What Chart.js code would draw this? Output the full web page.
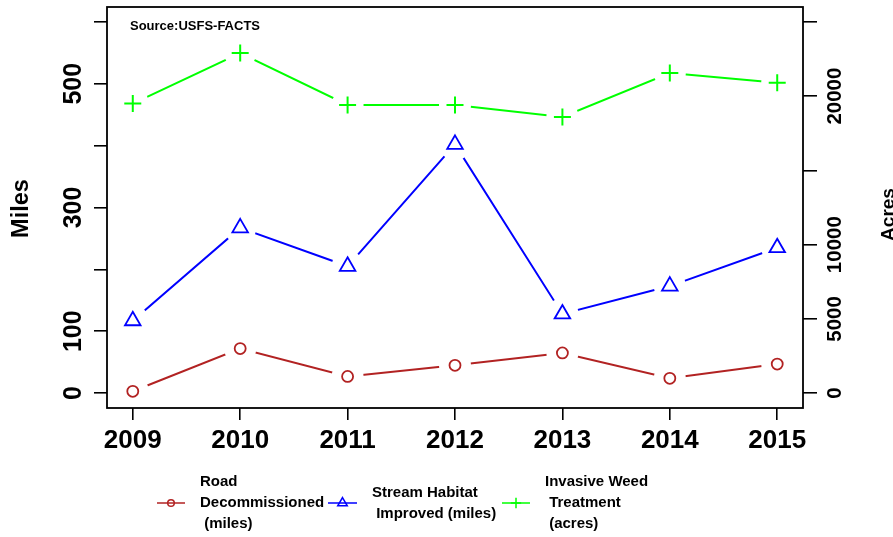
<!DOCTYPE html>
<html>
<head>
<meta charset="utf-8">
<script src="https://cdn.jsdelivr.net/npm/chart.js@4/dist/chart.umd.min.js"></script>
<style>
  html, body { margin: 0; padding: 0; background: #ffffff; }
  #wrap { width: 893px; height: 537px; }
</style>
</head>
<body>
<div id="wrap"><canvas id="c" width="893" height="537"></canvas></div>
<script>
// ---- data ----
const years = [2009, 2010, 2011, 2012, 2013, 2014, 2015];
const roadMiles = [3, 72, 27, 45, 65, 24, 47];
const streamMiles = [117, 267, 205, 402, 128, 173, 235];
const weedAcres = [19500, 22900, 19400, 19400, 18600, 21550, 20900];

const xTickLabels = ['2009', '2010', '2011', '2012', '2013', '2014', '2015'];
const leftTicks = [0, 100, 200, 300, 400, 500, 600];
const leftTickLabels = ['0', '100', '', '300', '', '500', ''];
const rightTicks = [0, 5000, 10000, 15000, 20000, 25000];
const rightTickLabels = ['0', '5000', '10000', '', '20000', ''];

const seriesNames = ['Road Decommissioned (miles)', 'Stream Habitat Improved (miles)', 'Invasive Weed Treatment (acres)'];
const legendLines = [['Road', 'Decommissioned', ' (miles)'], ['Stream Habitat', ' Improved (miles)'], ['Invasive Weed', ' Treatment', ' (acres)']];
const leftTitle = 'Miles';
const rightTitle = 'Acres';
const sourceNote = 'Source:USFS-FACTS';

// ---- styling ----
const FONT = "'Liberation Sans', Arial, Helvetica, sans-serif";
Chart.defaults.font.family = FONT;
Chart.defaults.color = '#000000';
const RED = '#B22222', BLUE = '#0000FF', GREEN = '#00FF00';

const rDecor = {
  id: 'rDecor',
  afterDatasetDraw(chart, args) {
    const ctx = chart.ctx, area = chart.chartArea;
    const meta = args.meta;
    ctx.save();
    ctx.beginPath();
    ctx.rect(area.left, area.top, area.right - area.left, area.bottom - area.top);
    ctx.clip();
    ctx.fillStyle = '#ffffff';
    meta.data.forEach(el => {
      ctx.beginPath();
      ctx.arc(el.x, el.y, 16, 0, Math.PI * 2);
      ctx.fill();
    });
    meta.data.forEach(el => el.draw(ctx, area));
    ctx.restore();
  },
  afterDraw(chart) {
    const ctx = chart.ctx, a = chart.chartArea;
    ctx.save();
    // box
    ctx.strokeStyle = '#000';
    ctx.lineWidth = 1.8;
    ctx.strokeRect(a.left, a.top, a.right - a.left, a.bottom - a.top);
    // source
    ctx.fillStyle = '#000';
    ctx.font = 'bold 13px ' + FONT;
    ctx.textAlign = 'left';
    ctx.textBaseline = 'alphabetic';
    ctx.fillText(sourceNote, a.left + 23, a.top + 23);
    // axis titles (rotated, reading bottom to top)
    const midY = (a.top + a.bottom) / 2;
    ctx.save();
    ctx.translate(28, midY + 1);
    ctx.rotate(-Math.PI / 2);
    ctx.font = 'bold 23.5px ' + FONT;
    ctx.textAlign = 'center';
    ctx.fillText(leftTitle, 0, 0);
    ctx.restore();
    ctx.save();
    ctx.translate(894, midY + 7);
    ctx.rotate(-Math.PI / 2);
    ctx.font = 'bold 19px ' + FONT;
    ctx.textAlign = 'center';
    ctx.fillText(rightTitle, 0, 0);
    ctx.restore();
    // legend
    const legY = 503;
    const items = [
      {x1: 157, x2: 185, tx: 200},
      {x1: 328, x2: 357, tx: 372},
      {x1: 502, x2: 530, tx: 545}
    ];
    const markerR = [3.3, 5.5, 5.2];
    chart.data.datasets.forEach((ds, i) => {
      const it = items[i];
      ctx.strokeStyle = ds.borderColor;
      ctx.lineWidth = 1.5;
      ctx.beginPath();
      ctx.moveTo(it.x1, legY);
      ctx.lineTo(it.x2, legY);
      ctx.stroke();
      const mx = (it.x1 + it.x2) / 2;
      ctx.fillStyle = 'rgba(0,0,0,0)';
      ctx.strokeStyle = ds.borderColor;
      ctx.lineWidth = 1.5;
      Chart.helpers.drawPoint(ctx, {pointStyle: ds.pointStyle, radius: markerR[i], borderWidth: 1.5, rotation: 0}, mx, legY);
      const lines = legendLines[i];
      const lh = 21;
      ctx.fillStyle = '#000';
      ctx.font = 'bold 15px ' + FONT;
      ctx.textAlign = 'left';
      ctx.textBaseline = 'middle';
      lines.forEach((t, k) => {
        const y = legY + (k - (lines.length - 1) / 2) * lh;
        ctx.fillText(t, it.tx, y);
      });
    });
    ctx.restore();
  }
};

const tickGrid = (len) => ({
  drawOnChartArea: false,
  drawTicks: true,
  tickLength: len,
  color: '#000000',
  lineWidth: 1.6
});

const noPad = s => { s.paddingTop = 0; s.paddingBottom = 0; s.paddingLeft = 0; s.paddingRight = 0; };

new Chart(document.getElementById('c'), {
  type: 'line',
  data: {
    labels: years,
    datasets: [
      {
        label: seriesNames[0], data: roadMiles, yAxisID: 'y',
        borderColor: RED, borderWidth: 2, tension: 0,
        pointStyle: 'circle', pointRadius: 5.5, pointBorderWidth: 1.8,
        pointBorderColor: RED, pointBackgroundColor: 'rgba(0,0,0,0)'
      },
      {
        label: seriesNames[1], data: streamMiles, yAxisID: 'y',
        borderColor: BLUE, borderWidth: 2, tension: 0,
        pointStyle: 'triangle', pointRadius: 9, pointBorderWidth: 1.8,
        pointBorderColor: BLUE, pointBackgroundColor: 'rgba(0,0,0,0)'
      },
      {
        label: seriesNames[2], data: weedAcres, yAxisID: 'y2',
        borderColor: GREEN, borderWidth: 2, tension: 0,
        pointStyle: 'cross', pointRadius: 8.5, pointBorderWidth: 2,
        pointBorderColor: GREEN, pointBackgroundColor: 'rgba(0,0,0,0)'
      }
    ]
  },
  options: {
    responsive: false,
    animation: false,
    devicePixelRatio: 1,
    layout: { autoPadding: false, padding: { top: 7, left: 0, right: 0, bottom: 0 } },
    plugins: { legend: { display: false }, tooltip: { enabled: false } },
    scales: {
      x: {
        type: 'linear',
        min: 2008.76, max: 2015.24,
        afterBuildTicks: s => { s.ticks = years.map(v => ({ value: v })); },
        afterFit: s => { s.height = 129; noPad(s); },
        border: { display: false },
        grid: tickGrid(12),
        ticks: {
          padding: 5,
          font: { size: 26, weight: 'bold' },
          color: '#000',
          maxRotation: 0,
          autoSkip: false,
          callback: v => xTickLabels[years.indexOf(v)]
        }
      },
      y: {
        type: 'linear', position: 'left',
        min: -24, max: 624,
        afterBuildTicks: s => { s.ticks = leftTicks.map(v => ({ value: v })); },
        afterFit: s => { s.width = 107; noPad(s); },
        border: { display: false },
        grid: tickGrid(13),
        ticks: {
          minRotation: 90, maxRotation: 90,
          crossAlign: 'center',
          padding: -1,
          autoSkip: false,
          font: { size: 25, weight: 'bold' },
          color: '#000',
          callback: v => leftTickLabels[leftTicks.indexOf(v)]
        }
      },
      y2: {
        type: 'linear', position: 'right',
        min: -1000, max: 26000,
        afterBuildTicks: s => { s.ticks = rightTicks.map(v => ({ value: v })); },
        afterFit: s => { s.width = 90; noPad(s); },
        border: { display: false },
        grid: tickGrid(14),
        ticks: {
          minRotation: 90, maxRotation: 90,
          crossAlign: 'center',
          padding: -10,
          autoSkip: false,
          font: { size: 20.5, weight: 'bold' },
          color: '#000',
          callback: v => rightTickLabels[rightTicks.indexOf(v)]
        }
      }
    }
  },
  plugins: [rDecor]
});
</script>
</body>
</html>
